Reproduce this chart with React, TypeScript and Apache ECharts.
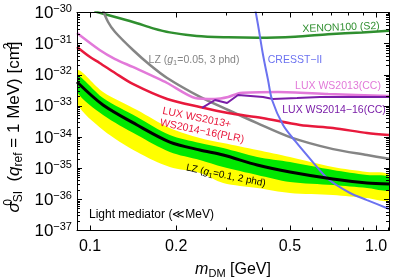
import React, { useEffect, useRef } from "react";
import * as echarts from "echarts";

// ---- data (mass in GeV, cross section in cm^2) ----
const xenonMass = [0.1035, 0.127, 0.146, 0.166, 0.19, 0.236, 0.304, 0.387, 0.521, 0.679, 0.893, 1.11];
const xenonSigma = [1.09e-30, 6.5e-31, 4.5e-31, 3.1e-31, 2.3e-31, 1.76e-31, 1.6e-31, 1.55e-31, 1.67e-31, 2.0e-31, 2.3e-31, 2.6e-31];

const lzGrayMass = [0.109, 0.1156, 0.1223, 0.1413, 0.162, 0.186, 0.2425, 0.304, 0.384, 0.5, 0.708, 0.93, 1.11];
const lzGraySigma = [1.74e-30, 4.95e-31, 2.37e-31, 6.25e-32, 2.06e-32, 7.9e-33, 1.95e-33, 7.4e-34, 2.8e-34, 1.0e-34, 4.1e-35, 2.65e-35, 2.0e-35];

const luxPlrMass = [0.09, 0.1, 0.108, 0.1223, 0.141, 0.186, 0.242, 0.304, 0.4, 0.542, 0.707, 0.93, 1.11];
const luxPlrSigma = [7.8e-32, 3.7e-32, 2.4e-32, 1.14e-32, 5.1e-33, 1.67e-33, 9.2e-34, 5.9e-34, 4.1e-34, 2.44e-34, 1.95e-34, 1.35e-34, 1.16e-34];

const lux2013Mass = [0.09, 0.108, 0.1223, 0.141, 0.186, 0.233, 0.2735, 0.304, 0.3345, 0.454, 0.68, 1.11];
const lux2013Sigma = [2.2e-31, 6.25e-32, 3.2e-32, 1.78e-32, 5.45e-33, 1.8e-33, 1.67e-33, 1.94e-33, 2.6e-33, 2.8e-33, 2.41e-33, 2.08e-33];

const lux2014Mass = [0.2463, 0.2735, 0.3013, 0.3292, 0.4026, 0.4364, 0.5294, 0.637, 0.792, 1.11];
const lux2014Sigma = [8.6e-34, 1.55e-33, 1.24e-33, 2.24e-33, 1.94e-33, 1.67e-33, 1.8e-33, 1.94e-33, 1.94e-33, 1.94e-33];

const cresstMass = [0.3745, 0.3867, 0.4026, 0.4191, 0.4329, 0.473, 0.521, 0.597, 0.68, 0.811, 0.93, 1.11];
const cresstSigma = [2.0e-30, 3.97e-31, 4.31e-32, 6.8e-33, 1.55e-33, 2.44e-34, 7.5e-35, 1.7e-35, 4.5e-36, 1.6e-36, 9.5e-37, 4.9e-37];

const bandMass = [0.09, 0.111, 0.146, 0.19, 0.242, 0.292, 0.384, 0.5, 0.707, 0.93, 1.11];
const yellowTop = [1.43e-32, 2.8e-33, 7.4e-34, 1.95e-34, 9.33e-35, 6.44e-35, 3.84e-35, 2.29e-35, 1.09e-35, 7.55e-36, 6.05e-36];
const greenTop = [9.84e-33, 1.79e-33, 4.41e-34, 1.16e-34, 6.44e-35, 4.45e-35, 2.29e-35, 1.58e-35, 8.75e-36, 6.05e-36, 5.21e-36];
const lzCentral = [5.86e-33, 1.07e-33, 2.44e-34, 6.93e-35, 3.84e-35, 2.65e-35, 1.27e-35, 7.55e-36, 4.5e-36, 3.35e-36, 3.11e-36];
const greenBottom = [2.8e-33, 5.11e-34, 1.16e-34, 3.31e-35, 1.83e-35, 1.09e-35, 6.05e-36, 3.61e-36, 2.88e-36, 2.32e-36, 2.0e-36];
const yellowBottom = [1.24e-33, 1.69e-34, 3.31e-35, 1.09e-35, 7.01e-36, 3.35e-36, 2.32e-36, 1.6e-36, 1.38e-36, 1.1e-36, 9.53e-37];

// ---- axes ----
const X_MIN = 0.09;
const X_MAX = 1.11;
const Y_MIN = 1e-37;
const Y_MAX = 1e-30;
const xMajorTicks = [0.1, 0.2, 0.5, 1.0];
const xMinorTicks = [0.09, 0.3, 0.4, 0.6, 0.7, 0.8, 0.9, 1.1];
const yMinorMultipliers = [2, 3, 4, 5, 6, 7, 8, 9];

const FONT = '"Liberation Sans", Arial, Helvetica, sans-serif';
const C_XENON = "#2f8f2f";
const C_GRAY = "#858585";
const C_PINK = "#e279d9";
const C_RED = "#e8193c";
const C_PURPLE = "#7a1da8";
const C_BLUE = "#6b72f0";
const C_YELLOW = "#ffff00";
const C_GREEN = "#00e800";

const lg = Math.log10;

export default function App() {
  const ref = useRef<HTMLDivElement>(null);

  useEffect(() => {
    const chart = echarts.init(ref.current as HTMLDivElement, null, { renderer: "svg" });
    const pairs = (xs: number[], ys: number[]) => xs.map((x, i) => [x, ys[i]]);

    const yMinorVals: number[] = [];
    for (let e = -37; e < -30; e++) for (const k of yMinorMultipliers) yMinorVals.push(lg(k) + e);

    const xTickAxis = (pos: string, major: boolean): any => ({
      type: "value",
      position: pos,
      min: lg(X_MIN),
      max: lg(X_MAX),
      z: 20,
      axisLine: { show: major, onZero: false, lineStyle: { color: "#000", width: 1 } },
      axisTick: {
        show: true,
        inside: true,
        length: major ? 5 : 3,
        customValues: (major ? xMajorTicks : xMinorTicks).map(lg),
        lineStyle: { color: "#000", width: 1 },
      },
      axisLabel: {
        show: major && pos === "bottom",
        customValues: xMajorTicks.map(lg),
        formatter: (v: number) => Math.pow(10, v).toFixed(1),
        fontFamily: FONT,
        fontSize: 16,
        color: "#000",
        margin: 7,
      },
      splitLine: { show: false },
    });

    const yTickAxis = (pos: string, major: boolean): any => ({
      type: "value",
      position: pos,
      min: -37,
      max: -30,
      interval: 1,
      z: 20,
      axisLine: { show: major, onZero: false, lineStyle: { color: "#000", width: 1 } },
      axisTick: major
        ? { show: true, inside: true, length: 5, lineStyle: { color: "#000", width: 1 } }
        : { show: true, inside: true, length: 3, customValues: yMinorVals, lineStyle: { color: "#000", width: 1 } },
      axisLabel: {
        show: major && pos === "left",
        margin: 5,
        formatter: (v: number) => `{b|10}{s|−${Math.abs(Math.round(v))}}`,
        rich: {
          b: { fontFamily: FONT, fontSize: 17, color: "#000", lineHeight: 20 },
          s: { fontFamily: FONT, fontSize: 11, color: "#000", lineHeight: 12, verticalAlign: "top" },
        },
      },
      splitLine: { show: false },
    });

    const line = (name: string, xs: number[], ys: number[], color: string, width: number, smooth: any, z: number): any => ({
      type: "line",
      name,
      xAxisIndex: 0,
      yAxisIndex: 0,
      data: pairs(xs, ys),
      symbol: "none",
      showSymbol: false,
      smooth,
      lineStyle: { color, width },
      z,
      silent: true,
    });

    const bandSeries: any = {
      type: "custom",
      name: "LZ projection bands",
      coordinateSystem: "cartesian2d",
      xAxisIndex: 0,
      yAxisIndex: 0,
      data: [[bandMass[0], lzCentral[0]]],
      clip: true,
      silent: true,
      z: 1,
      renderItem: (_params: any, api: any) => {
        const left = api.coord([X_MIN, Y_MAX])[0];
        const right = api.coord([X_MAX, Y_MAX])[0];
        const poly = (top: number[], bottom: number[], color: string) => {
          const upper = bandMass.map((m, i) => api.coord([m, top[i]]));
          const lower = bandMass.map((m, i) => api.coord([m, bottom[i]])).reverse();
          return {
            type: "polygon",
            shape: {
              points: upper.concat(lower),
              smooth: 0.3,
              smoothConstraint: [
                [left, -10000],
                [right, 10000],
              ],
            },
            style: { fill: color },
          };
        };
        return {
          type: "group",
          children: [poly(yellowTop, yellowBottom, C_YELLOW), poly(greenTop, greenBottom, C_GREEN)],
        };
      },
    };

    const txt = (x: number, y: number, text: string, color: string, size: number, opts: any = {}): any => ({
      type: "text",
      x,
      y,
      rotation: opts.rotation || 0,
      z: 100,
      style: {
        text,
        fill: color,
        fontFamily: FONT,
        fontSize: size,
        align: opts.align || "center",
        verticalAlign: opts.verticalAlign || "middle",
        textAlign: opts.align || "center",
        textVerticalAlign: opts.verticalAlign || "middle",
        lineHeight: opts.lineHeight,
        rich: opts.rich,
      },
    });

    const subRich = (color: string, size: number) => ({
      i: { fontFamily: FONT, fontSize: size, fontStyle: "italic", fill: color, lineHeight: size + 4 },
      sub: { fontFamily: FONT, fontSize: size * 0.72, fill: color, lineHeight: size * 0.72, verticalAlign: "bottom" },
    });

    chart.setOption({
      animation: false,
      grid: { left: 77, right: 6, top: 12.5, bottom: 49.5, containLabel: false, outerBoundsMode: "none" },
      xAxis: [
        { type: "log", min: X_MIN, max: X_MAX, show: false, logBase: 10 },
        xTickAxis("bottom", true),
        xTickAxis("bottom", false),
        xTickAxis("top", true),
        xTickAxis("top", false),
      ],
      yAxis: [
        { type: "log", min: Y_MIN, max: Y_MAX, show: false, logBase: 10 },
        yTickAxis("left", true),
        yTickAxis("left", false),
        yTickAxis("right", true),
        yTickAxis("right", false),
      ],
      series: [
        bandSeries,
        line("XENON100 (S2)", xenonMass, xenonSigma, C_XENON, 2.5, 0.3, 5),
        line("LZ (g1=0.05, 3 phd)", lzGrayMass, lzGraySigma, C_GRAY, 2.5, 0.3, 5),
        line("LUX WS2013+WS2014-16 (PLR)", luxPlrMass, luxPlrSigma, C_RED, 2.5, 0.3, 5),
        line("LUX WS2013 (CC)", lux2013Mass, lux2013Sigma, C_PINK, 2.5, 0.25, 5),
        line("LUX WS2014-16 (CC)", lux2014Mass, lux2014Sigma, C_PURPLE, 2, false, 6),
        line("CRESST-II", cresstMass, cresstSigma, C_BLUE, 2, 0.3, 6),
        line("LZ (g1=0.1, 2 phd)", bandMass, lzCentral, "#000", 3, 0.3, 7),
      ],
      graphic: [
        txt(341, 27, "XENON100 (S2)", C_XENON, 10.5, { rotation: 0.04 }),
        txt(194, 59, "LZ ({i|g}{sub|1}=0.05, 3 phd)", C_GRAY, 10.5, { rich: subRich(C_GRAY, 10.5) }),
        txt(295, 59, "CRESST−II", C_BLUE, 10.5),
        txt(338, 85, "LUX WS2013(CC)", C_PINK, 10.5),
        txt(334, 109, "LUX WS2014−16(CC)", C_PURPLE, 10.5),
        txt(164, 104, "LUX WS2013+\nWS2014−16(PLR)", C_RED, 10.5, {
          rotation: -0.2,
          align: "left",
          verticalAlign: "top",
          lineHeight: 12,
        }),
        txt(226, 175, "LZ ({i|g}{sub|1}=0.1, 2 phd)", "#000", 10, { rotation: -0.2, rich: subRich("#000", 10) }),
        txt(89, 214, "Light mediator (≪MeV)", "#000", 12, { align: "left" }),
        txt(233, 268, "{i|m}{sub|DM} [GeV]", "#000", 16, {
          rich: {
            i: { fontFamily: FONT, fontSize: 16, fontStyle: "italic", fill: "#000", lineHeight: 20 },
            sub: { fontFamily: FONT, fontSize: 11, fill: "#000", lineHeight: 11, verticalAlign: "bottom" },
          },
        }),
        txt(13, 127, "{i|σ}{sup|0}{sub|SI}  ({i|q}{sub|ref} = 1 MeV) [cm{sup|2}]", "#000", 17, {
          rotation: Math.PI / 2,
          rich: {
            i: { fontFamily: FONT, fontSize: 17, fontStyle: "italic", fill: "#000", lineHeight: 22 },
            sup: { fontFamily: FONT, fontSize: 12, fill: "#000", lineHeight: 12, verticalAlign: "top", width: 0.01 },
            sub: { fontFamily: FONT, fontSize: 12, fill: "#000", lineHeight: 12, verticalAlign: "bottom" },
          },
        }),
      ],
    });

    return () => chart.dispose();
  }, []);

  return <div ref={ref} style={{ position: "fixed", left: 0, top: 0, width: 395, height: 280 }} />;
}
